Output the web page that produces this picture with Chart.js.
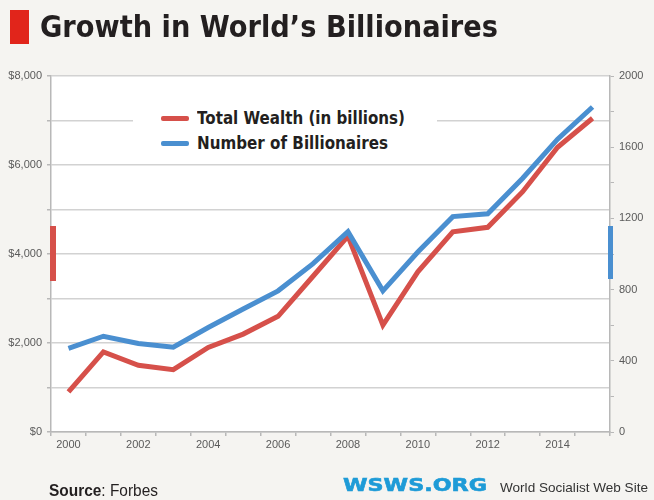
<!DOCTYPE html>
<html lang="en">
<head>
    <meta charset="UTF-8">
    <title>Growth in World's Billionaires</title>
    <script src="https://cdn.jsdelivr.net/npm/chart.js@4.4.0/dist/chart.umd.min.js"></script>
    <style>
        body { margin: 0; background: #f5f4f1; font-family: "Liberation Sans", Arial, sans-serif; }
        #wrap { position: relative; width: 654px; height: 500px; overflow: hidden; }
        #wrap canvas { position: absolute; left: 0; top: 0; }
        .abs { position: absolute; white-space: nowrap; transform-origin: 0 0; }
        .fit { display: inline-block; }
        .heavy { font-family: "DejaVu Sans", "Liberation Sans", sans-serif; font-weight: bold; }
    </style>
</head>
<body>
<div id="wrap">
    <canvas id="chart" width="654" height="500"></canvas>

    <!-- Title -->
    <div class="abs" style="left:10px; top:10px; width:19px; height:34px; background:#e1251b;"></div>
    <div class="abs fit heavy" id="title" style="left:40px; top:11px; font-size:30px; line-height:31px; color:#231f20;">Growth in World’s Billionaires</div>

    <!-- Legend -->
    <div class="abs" style="left:133px; top:97px; width:304px; height:60px; background:#fff;"></div>
    <div class="abs" style="left:161px; top:116px; width:28px; height:5px; border-radius:2px; background:#d6504a;"></div>
    <div class="abs" style="left:161px; top:141px; width:28px; height:5px; border-radius:2px; background:#4a8fd0;"></div>
    <div class="abs fit heavy" id="leg1" style="left:197px; top:109px; font-size:17.5px; line-height:18px; color:#231f20;">Total Wealth (in billions)</div>
    <div class="abs fit heavy" id="leg2" style="left:197px; top:134px; font-size:17.5px; line-height:18px; color:#231f20;">Number of Billionaires</div>

    <!-- Footer -->
    <div class="abs fit" id="source" style="left:49px; top:482px; font-size:17px; line-height:17px; color:#231f20;"><b>Source</b>: Forbes</div>
    <div class="abs fit heavy" id="wsws" style="left:343px; top:476px; font-size:18px; line-height:18px; color:#1e9bd7; -webkit-text-stroke:0.6px #1e9bd7;">WSWS.ORG</div>
    <div class="abs fit" id="wsws2" style="left:500px; top:481px; font-size:13px; line-height:13px; color:#333;">World Socialist Web Site</div>
</div>

<script>
    const years = ['2000', '2001', '2002', '2003', '2004', '2005', '2006', '2007',
                   '2008', '2009', '2010', '2011', '2012', '2013', '2014', '2015'];
    // total wealth, billions of dollars (left axis)
    const wealth = [900, 1800, 1500, 1400, 1900, 2200, 2600, 3500,
                    4400, 2400, 3600, 4500, 4600, 5400, 6400, 7050];
    // number of billionaires (right axis)
    const billionaires = [470, 538, 497, 476, 587, 691, 793, 946,
                          1125, 793, 1011, 1210, 1226, 1426, 1645, 1826];
    const wealthLabelStep = 2000;
    const countLabelStep = 400;

    // squeeze text to the condensed widths of the original
    function fitWidth(id, w) {
        const el = document.getElementById(id);
        const cur = el.getBoundingClientRect().width;
        el.style.transform = 'scaleX(' + (w / cur) + ')';
    }
    fitWidth('title', 458);
    fitWidth('leg1', 208);
    fitWidth('leg2', 191);
    fitWidth('source', 109);
    fitWidth('wsws', 144);
    fitWidth('wsws2', 148);

    const RED = '#d6504a';
    const BLUE = '#4a8fd0';
    const GRID = '#d2d2d2';
    const AXIS = '#b8b8b8';

    const plotBg = {
        id: 'plotBg',
        beforeDraw(chart) {
            const { ctx, chartArea: a } = chart;
            ctx.save();
            ctx.fillStyle = '#ffffff';
            ctx.fillRect(a.left, a.top, a.right - a.left, a.bottom - a.top);
            ctx.restore();
        },
        afterDraw(chart) {
            // coloured markers sitting on each axis
            const { ctx, chartArea: a } = chart;
            ctx.save();
            ctx.fillStyle = RED;
            ctx.fillRect(a.left - 1, 226, 6, 55);
            ctx.fillStyle = BLUE;
            ctx.fillRect(a.right - 2, 226, 5, 53);
            ctx.restore();
        }
    };

    const tickFont = { family: '"Liberation Sans", Arial, sans-serif', size: 11 };

    new Chart(document.getElementById('chart'), {
        type: 'line',
        data: {
            labels: years,
            datasets: [{
                label: 'Total Wealth (in billions)',
                data: wealth,
                yAxisID: 'y',
                borderColor: RED,
                borderWidth: 5,
                pointRadius: 0,
                tension: 0,
                order: 1
            }, {
                label: 'Number of Billionaires',
                data: billionaires,
                yAxisID: 'y2',
                borderColor: BLUE,
                borderWidth: 5,
                pointRadius: 0,
                tension: 0,
                order: 0
            }]
        },
        options: {
            responsive: false,
            animation: false,
            layout: { padding: { top: 76, left: 0, right: 0, bottom: 0 } },
            plugins: { legend: { display: false }, tooltip: { enabled: false } },
            scales: {
                x: {
                    offset: true,
                    afterFit: s => { s.height = 68; },
                    grid: { offset: true, drawOnChartArea: false, tickLength: 4, color: AXIS, lineWidth: 1.5 },
                    border: { color: AXIS, width: 1.5 },
                    ticks: {
                        autoSkip: false, maxRotation: 0, padding: 2,
                        color: '#5a5a5a', font: tickFont,
                        callback: (v, i) => i % 2 === 0 ? years[i] : ''
                    }
                },
                y: {
                    position: 'left',
                    min: 0, max: 8000,
                    afterFit: s => { s.width = 51; },
                    grid: { color: GRID, lineWidth: 1.5, tickLength: 4, tickColor: AXIS },
                    border: { color: AXIS, width: 1.5 },
                    ticks: {
                        stepSize: 1000, padding: 5, color: '#5a5a5a', font: tickFont,
                        callback: v => v % wealthLabelStep === 0 ? '$' + v.toLocaleString('en-US') : ''
                    }
                },
                y2: {
                    position: 'right',
                    min: 0, max: 2000,
                    afterFit: s => { s.width = 44; },
                    grid: { drawOnChartArea: false, tickLength: 4, color: AXIS },
                    border: { color: AXIS, width: 1.5 },
                    ticks: {
                        stepSize: 200, padding: 5, color: '#5a5a5a', font: tickFont,
                        callback: v => v % countLabelStep === 0 ? String(v) : ''
                    }
                }
            }
        },
        plugins: [plotBg]
    });
</script>
</body>
</html>
